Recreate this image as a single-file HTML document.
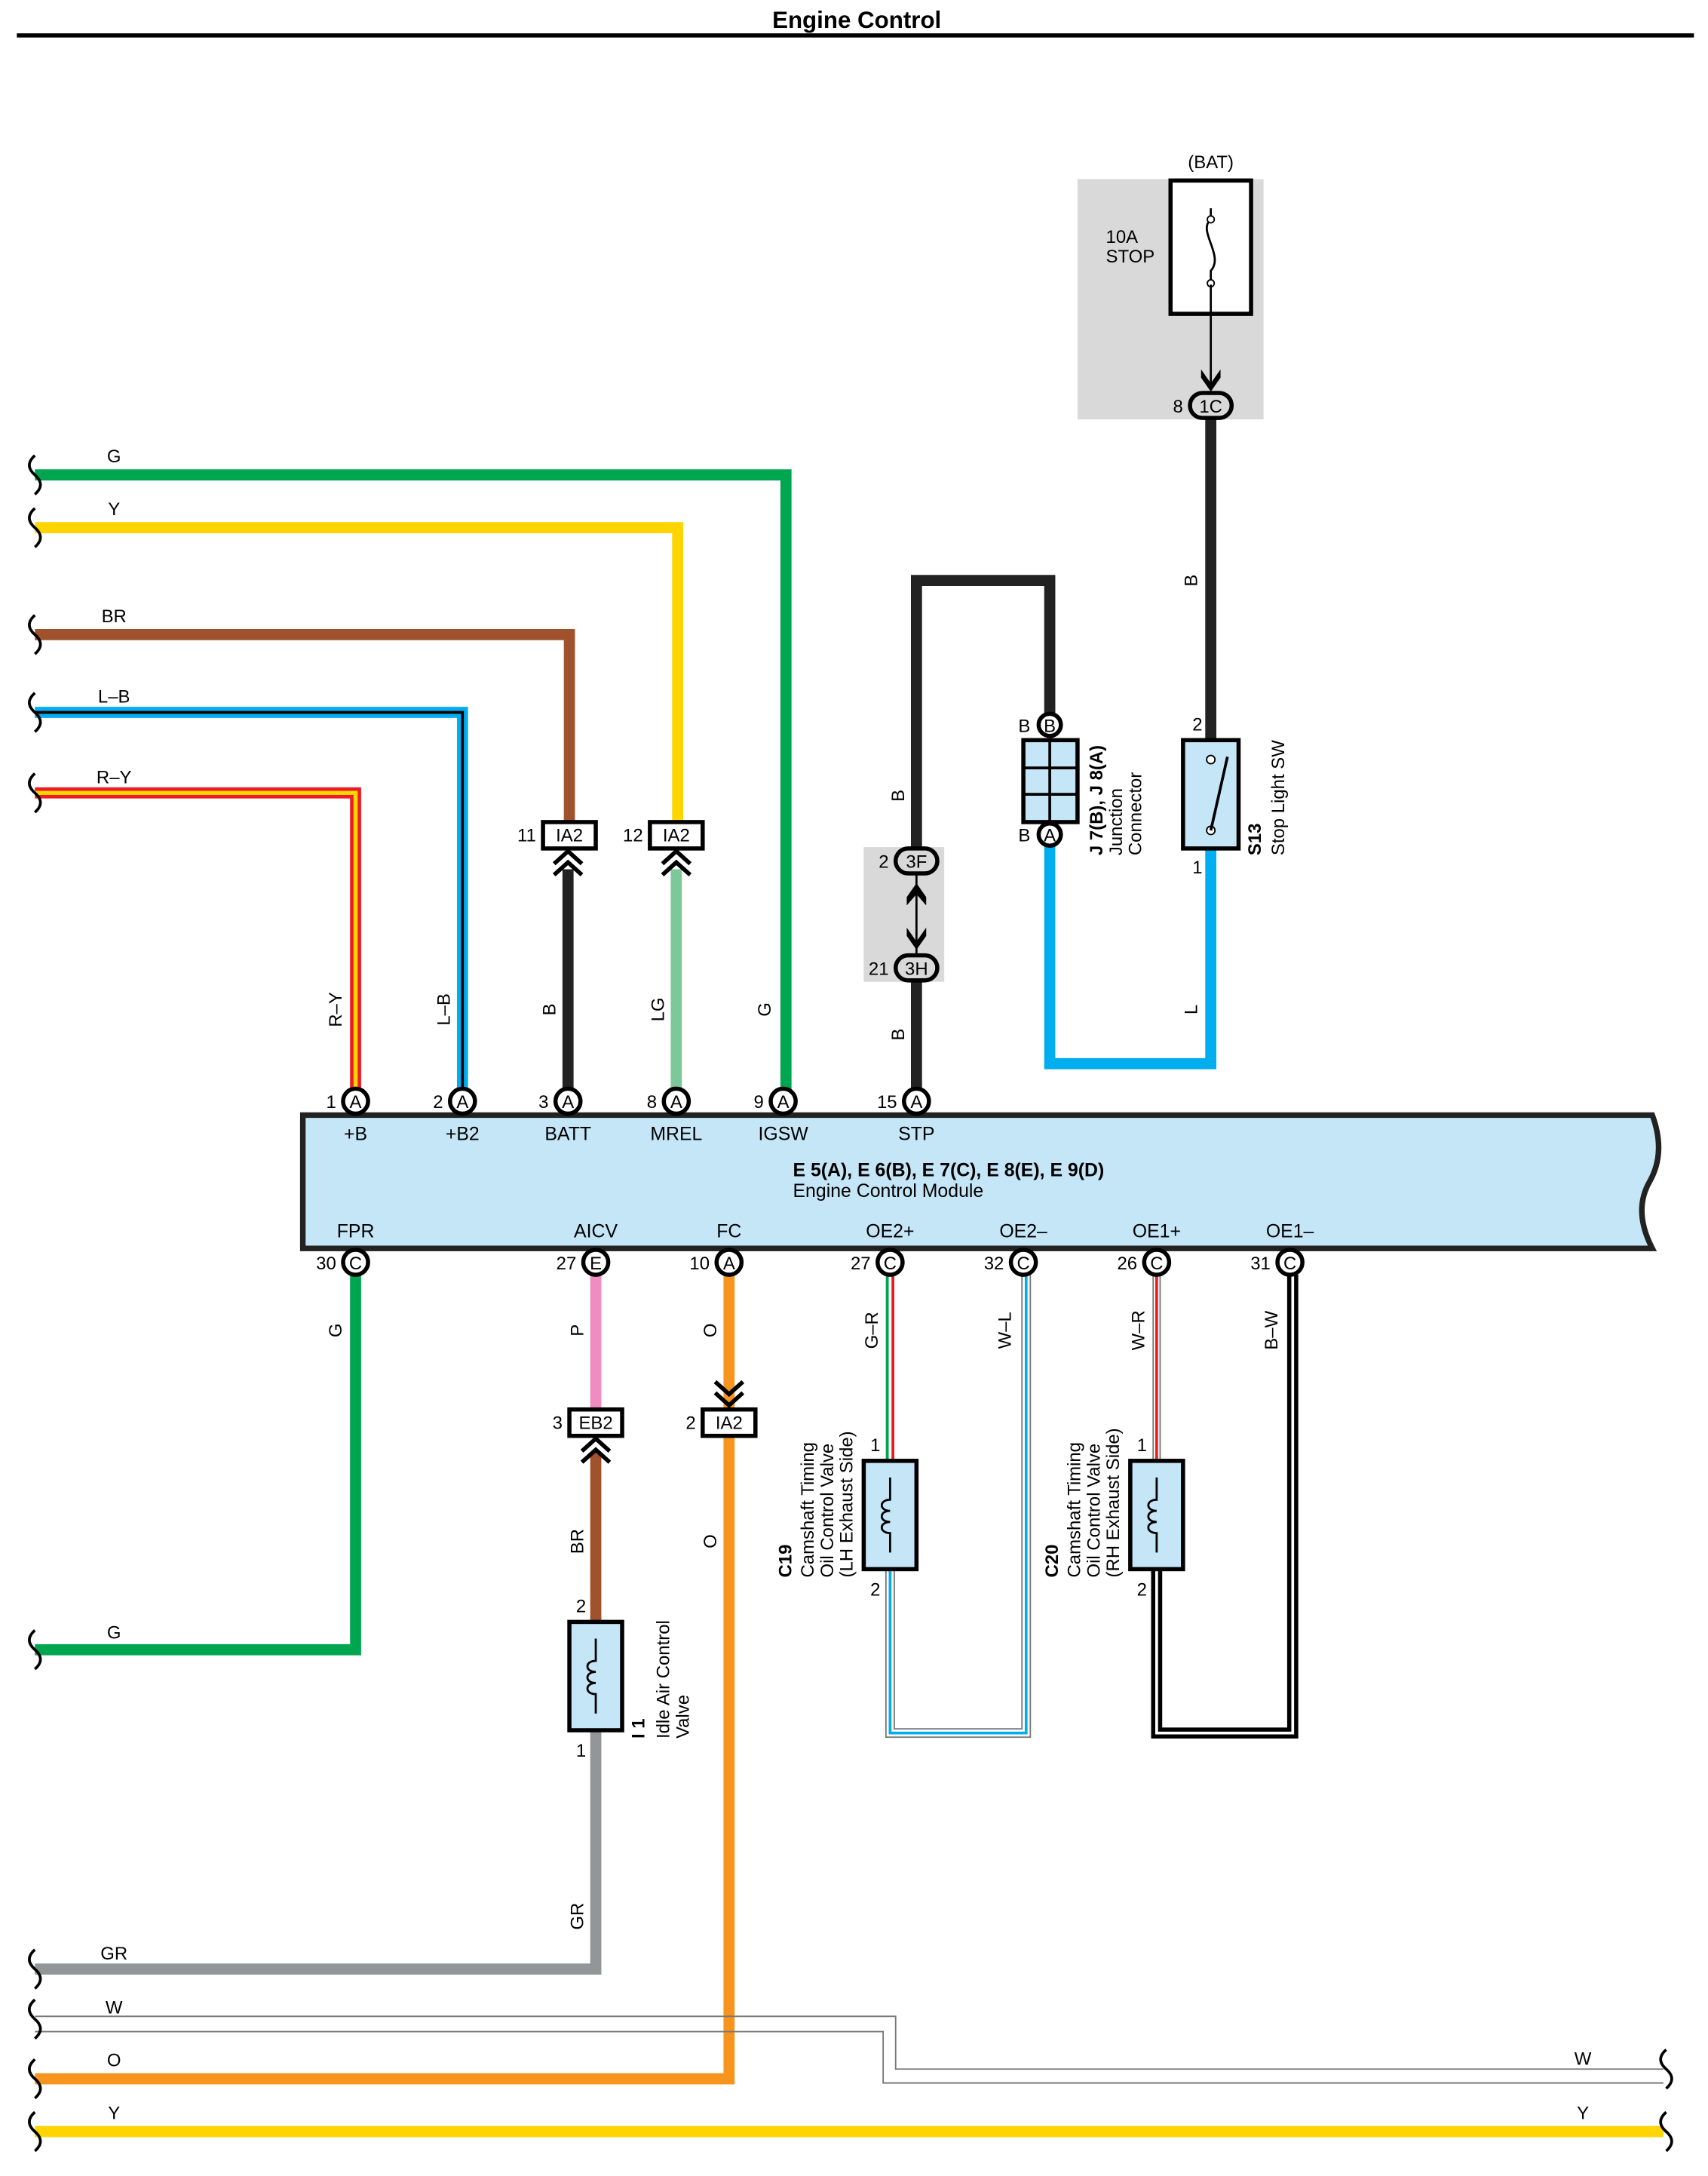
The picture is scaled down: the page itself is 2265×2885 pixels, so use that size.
<!DOCTYPE html>
<html><head><meta charset="utf-8"><style>
html,body{margin:0;padding:0;background:#fff}
svg{display:block}
text{font-family:"Liberation Sans",Arial,sans-serif;fill:#000}
</style></head><body>
<svg width="2265" height="2885" viewBox="0 0 1230 1567" xmlns="http://www.w3.org/2000/svg">
<defs>
<g id="brk"><path d="M0,-10 q-6,5 0,10 q6,5 0,10" fill="none" stroke="#000" stroke-width="2" transform="translate(0,-5)"/></g>
</defs>
<!-- title -->
<text x="617" y="20" font-size="17" font-weight="bold" text-anchor="middle">Engine Control</text>
<rect x="12" y="24" width="1208" height="3" fill="#000"/>

<!-- gray boxes -->
<rect x="776" y="129" width="134" height="173" fill="#d9d9d9"/>
<rect x="622" y="610" width="58" height="97" fill="#d9d9d9"/>

<!-- fuse -->
<text x="872" y="121" font-size="13" text-anchor="middle">(BAT)</text>
<rect x="843" y="130" width="58" height="96" fill="#fff" stroke="#000" stroke-width="3"/>
<path d="M872,150 L872,158 C862,166 882,184 872,195 L872,205" fill="none" stroke="#000" stroke-width="1.5"/>
<circle cx="872" cy="158" r="2.5" fill="#fff" stroke="#000"/><circle cx="872" cy="204" r="2.5" fill="#fff" stroke="#000"/>
<line x1="872" y1="205" x2="872" y2="280" stroke="#000" stroke-width="1.5"/>
<path d="M865,266 L872,276 L879,266 L879,272 L872,282 L865,272Z" fill="#000"/>
<text x="808" y="175" font-size="13" text-anchor="middle">10A</text>
<text x="814" y="189" font-size="13" text-anchor="middle">STOP</text>

<!-- wires thick -->
<g fill="none" stroke-linejoin="miter" stroke-linecap="butt">
<path d="M872,300 V535" stroke="#222" stroke-width="8"/>
<path d="M872,611 V766 H756 V606" stroke="#00aeef" stroke-width="8"/>
<path d="M756,516 V418 H660 V612" stroke="#222" stroke-width="8"/>
<path d="M660,705 V787" stroke="#222" stroke-width="8"/>
<path d="M660,628 V688" stroke="#000" stroke-width="1.5"/>
<path d="M25,342 H566 V787" stroke="#00a550" stroke-width="8"/>
<path d="M25,380 H488 V591" stroke="#ffd500" stroke-width="8"/>
<path d="M25,457 H410 V591" stroke="#a0522d" stroke-width="8"/>
<path d="M25,513 H333 V787" stroke="#00aeef" stroke-width="8"/>
<path d="M25,513 H333 V787" stroke="#000" stroke-width="2"/>
<path d="M25,571 H256 V787" stroke="#ed1c24" stroke-width="8"/>
<path d="M25,571 H256 V787" stroke="#ffd500" stroke-width="3"/>
<path d="M409,626 V787" stroke="#222" stroke-width="8"/>
<path d="M487,626 V787" stroke="#7dc89a" stroke-width="8"/>
<!-- bottom -->
<path d="M256,918 V1188 H25" stroke="#00a550" stroke-width="8"/>
<path d="M429,918 V1015" stroke="#f08cbf" stroke-width="8"/>
<path d="M429,1046 V1168" stroke="#a0522d" stroke-width="8"/>
<path d="M429,1246 V1418 H25" stroke="#939598" stroke-width="8"/>
<path d="M525,918 V1497 H25" stroke="#f7941d" stroke-width="8"/>
<path d="M641,918 V1052" stroke="#000" stroke-width="6"/>
<path d="M641,918 V1052" stroke="#fff" stroke-width="4"/>
<path d="M639,918 V1052" stroke="#00a550" stroke-width="2"/>
<path d="M643,918 V1052" stroke="#ed1c24" stroke-width="2"/>
<path d="M641,1130 V1248 H739 V918" stroke="#777" stroke-width="7"/>
<path d="M641,1130 V1248 H739 V918" stroke="#fff" stroke-width="5"/>
<path d="M641,1130 V1248 H739 V918" stroke="#00aeef" stroke-width="2"/>
<path d="M833,918 V1052" stroke="#777" stroke-width="6"/>
<path d="M833,918 V1052" stroke="#fff" stroke-width="4"/>
<path d="M833,918 V1052" stroke="#ed1c24" stroke-width="2"/>
<path d="M833,1130 V1248 H931 V918" stroke="#000" stroke-width="8"/>
<path d="M833,1130 V1248 H931 V918" stroke="#fff" stroke-width="2"/>
<path d="M25,1452 H645 V1490 H1198" stroke="#777" stroke-width="1"/>
<path d="M25,1463 H636 V1500 H1198" stroke="#777" stroke-width="1"/>
<path d="M25,1535 H1198" stroke="#ffd500" stroke-width="8"/>
</g>

<!-- break marks -->
<g fill="none" stroke="#000" stroke-width="2">
<path d="M25,328 q-8,7 0,14 q8,7 0,14"/>
<path d="M25,366 q-8,7 0,14 q8,7 0,14"/>
<path d="M25,443 q-8,7 0,14 q8,7 0,14"/>
<path d="M25,499 q-8,7 0,14 q8,7 0,14"/>
<path d="M25,557 q-8,7 0,14 q8,7 0,14"/>
<path d="M25,1174 q-8,7 0,14 q8,7 0,14"/>
<path d="M25,1404 q-8,7 0,14 q8,7 0,14"/>
<path d="M25,1440 q-8,7 0,14 q8,7 0,14"/>
<path d="M25,1483 q-8,7 0,14 q8,7 0,14"/>
<path d="M25,1521 q-8,7 0,14 q8,7 0,14"/>
<path d="M1200,1476 q-8,7 0,14 q8,7 0,14"/>
<path d="M1200,1521 q-8,7 0,14 q8,7 0,14"/>
</g>

<!-- wire labels -->
<g font-size="13" text-anchor="middle">
<text x="82" y="333">G</text><text x="82" y="371">Y</text><text x="82" y="448">BR</text>
<text x="82" y="506">L–B</text><text x="82" y="564">R–Y</text><text x="82" y="1180">G</text>
<text x="82" y="1411">GR</text><text x="82" y="1450">W</text><text x="82" y="1488">O</text>
<text x="82" y="1526">Y</text><text x="1140" y="1487">W</text><text x="1140" y="1526">Y</text>
</g>
<g font-size="13" text-anchor="middle">
<text transform="translate(246,727) rotate(-90)">R–Y</text>
<text transform="translate(324,727) rotate(-90)">L–B</text>
<text transform="translate(400,727) rotate(-90)">B</text>
<text transform="translate(478,727) rotate(-90)">LG</text>
<text transform="translate(555,727) rotate(-90)">G</text>
<text transform="translate(651,745) rotate(-90)">B</text>
<text transform="translate(651,573) rotate(-90)">B</text>
<text transform="translate(862,418) rotate(-90)">B</text>
<text transform="translate(862,727) rotate(-90)">L</text>
<text transform="translate(246,958) rotate(-90)">G</text>
<text transform="translate(420,958) rotate(-90)">P</text>
<text transform="translate(516,958) rotate(-90)">O</text>
<text transform="translate(632,958) rotate(-90)">G–R</text>
<text transform="translate(728,958) rotate(-90)">W–L</text>
<text transform="translate(824,958) rotate(-90)">W–R</text>
<text transform="translate(920,958) rotate(-90)">B–W</text>
<text transform="translate(420,1110) rotate(-90)">BR</text>
<text transform="translate(516,1110) rotate(-90)">O</text>
<text transform="translate(420,1380) rotate(-90)">GR</text>
</g>

<!-- ECM -->
<path d="M218,803 H1190 Q1200,830 1188,851 Q1176,872 1190,899 H218Z" fill="#c5e6f7" stroke="#222" stroke-width="4"/>
<text x="571" y="847" font-size="13.5" font-weight="bold">E 5(A), E 6(B), E 7(C), E 8(E), E 9(D)</text>
<text x="571" y="862" font-size="13.5">Engine Control Module</text>
<g font-size="13.5" text-anchor="middle">
<text x="256" y="821">+B</text><text x="333" y="821">+B2</text><text x="409" y="821">BATT</text>
<text x="487" y="821">MREL</text><text x="564" y="821">IGSW</text><text x="660" y="821">STP</text>
<text x="256" y="891">FPR</text><text x="429" y="891">AICV</text><text x="525" y="891">FC</text>
<text x="641" y="891">OE2+</text><text x="737" y="891">OE2–</text><text x="833" y="891">OE1+</text><text x="929" y="891">OE1–</text>
</g>

<!-- pins -->
<g font-size="13">
<g transform="translate(256,793)"><circle r="9" fill="#fff" stroke="#000" stroke-width="3"/><text y="5" text-anchor="middle">A</text><text x="-14" y="5" text-anchor="end">1</text></g>
<g transform="translate(333,793)"><circle r="9" fill="#fff" stroke="#000" stroke-width="3"/><text y="5" text-anchor="middle">A</text><text x="-14" y="5" text-anchor="end">2</text></g>
<g transform="translate(409,793)"><circle r="9" fill="#fff" stroke="#000" stroke-width="3"/><text y="5" text-anchor="middle">A</text><text x="-14" y="5" text-anchor="end">3</text></g>
<g transform="translate(487,793)"><circle r="9" fill="#fff" stroke="#000" stroke-width="3"/><text y="5" text-anchor="middle">A</text><text x="-14" y="5" text-anchor="end">8</text></g>
<g transform="translate(564,793)"><circle r="9" fill="#fff" stroke="#000" stroke-width="3"/><text y="5" text-anchor="middle">A</text><text x="-14" y="5" text-anchor="end">9</text></g>
<g transform="translate(660,793)"><circle r="9" fill="#fff" stroke="#000" stroke-width="3"/><text y="5" text-anchor="middle">A</text><text x="-14" y="5" text-anchor="end">15</text></g>
<g transform="translate(256,909)"><circle r="9" fill="#fff" stroke="#000" stroke-width="3"/><text y="5" text-anchor="middle">C</text><text x="-14" y="5" text-anchor="end">30</text></g>
<g transform="translate(429,909)"><circle r="9" fill="#fff" stroke="#000" stroke-width="3"/><text y="5" text-anchor="middle">E</text><text x="-14" y="5" text-anchor="end">27</text></g>
<g transform="translate(525,909)"><circle r="9" fill="#fff" stroke="#000" stroke-width="3"/><text y="5" text-anchor="middle">A</text><text x="-14" y="5" text-anchor="end">10</text></g>
<g transform="translate(641,909)"><circle r="9" fill="#fff" stroke="#000" stroke-width="3"/><text y="5" text-anchor="middle">C</text><text x="-14" y="5" text-anchor="end">27</text></g>
<g transform="translate(737,909)"><circle r="9" fill="#fff" stroke="#000" stroke-width="3"/><text y="5" text-anchor="middle">C</text><text x="-14" y="5" text-anchor="end">32</text></g>
<g transform="translate(833,909)"><circle r="9" fill="#fff" stroke="#000" stroke-width="3"/><text y="5" text-anchor="middle">C</text><text x="-14" y="5" text-anchor="end">26</text></g>
<g transform="translate(929,909)"><circle r="9" fill="#fff" stroke="#000" stroke-width="3"/><text y="5" text-anchor="middle">C</text><text x="-14" y="5" text-anchor="end">31</text></g>
<g transform="translate(756,522)"><circle r="8" fill="#fff" stroke="#000" stroke-width="3"/><text y="5" text-anchor="middle">B</text><text x="-14" y="5" text-anchor="end">B</text></g>
<g transform="translate(756,601)"><circle r="8" fill="#fff" stroke="#000" stroke-width="3"/><text y="5" text-anchor="middle">A</text><text x="-14" y="5" text-anchor="end">B</text></g>
<!-- ovals -->
<g transform="translate(872,292)"><rect x="-15" y="-9" width="30" height="18" rx="9" fill="#d9d9d9" stroke="#000" stroke-width="3"/><text y="5" text-anchor="middle">1C</text><text x="-20" y="5" text-anchor="end">8</text></g>
<g transform="translate(660,620)"><rect x="-15" y="-9" width="30" height="18" rx="9" fill="#d9d9d9" stroke="#000" stroke-width="3"/><text y="5" text-anchor="middle">3F</text><text x="-20" y="5" text-anchor="end">2</text></g>
<g transform="translate(660,697)"><rect x="-15" y="-9" width="30" height="18" rx="9" fill="#d9d9d9" stroke="#000" stroke-width="3"/><text y="5" text-anchor="middle">3H</text><text x="-20" y="5" text-anchor="end">21</text></g>
<path d="M653,646 L660,636 L667,646 L667,652 L660,644 L653,652Z" fill="#000"/>
<path d="M653,668 L660,678 L667,668 L667,674 L660,684 L653,674Z" fill="#000"/>
<!-- IA2 / EB2 boxes -->
<g transform="translate(410,601)"><rect x="-19" y="-9" width="38" height="19" fill="#fff" stroke="#000" stroke-width="3"/><text y="5" text-anchor="middle">IA2</text><text x="-24" y="5" text-anchor="end">11</text></g>
<g transform="translate(487,601)"><rect x="-19" y="-9" width="38" height="19" fill="#fff" stroke="#000" stroke-width="3"/><text y="5" text-anchor="middle">IA2</text><text x="-24" y="5" text-anchor="end">12</text></g>
<g transform="translate(429,1024)"><rect x="-19" y="-9" width="38" height="19" fill="#fff" stroke="#000" stroke-width="3"/><text y="5" text-anchor="middle">EB2</text><text x="-24" y="5" text-anchor="end">3</text></g>
<g transform="translate(525,1024)"><rect x="-19" y="-9" width="38" height="19" fill="#fff" stroke="#000" stroke-width="3"/><text y="5" text-anchor="middle">IA2</text><text x="-24" y="5" text-anchor="end">2</text></g>
</g>
<!-- chevrons -->
<g fill="none" stroke="#000" stroke-width="3">
<path d="M399,622 L409,613 L419,622 M399,630 L409,621 L419,630"/>
<path d="M477,622 L487,613 L497,622 M477,630 L487,621 L497,630"/>
<path d="M419,1045 L429,1036 L439,1045 M419,1053 L429,1044 L439,1053"/>
<path d="M515,995 L525,1004 L535,995 M515,1003 L525,1012 L535,1003"/>
</g>

<!-- junction connector -->
<rect x="737" y="533" width="39" height="59" fill="#c5e6f7" stroke="#000" stroke-width="3"/>
<path d="M756,533 V592 M737,553 H776 M737,572 H776" stroke="#000" stroke-width="2"/>
<g font-size="13"><text transform="translate(794,616) rotate(-90)" font-weight="bold">J 7(B), J 8(A)</text>
<text transform="translate(808,616) rotate(-90)">Junction</text>
<text transform="translate(822,616) rotate(-90)">Connector</text></g>

<!-- stop light sw -->
<rect x="852" y="533" width="40" height="78" fill="#c5e6f7" stroke="#000" stroke-width="3"/>
<circle cx="872" cy="547" r="3" fill="#fff" stroke="#000"/><circle cx="872" cy="598" r="3" fill="#fff" stroke="#000"/>
<line x1="872" y1="598" x2="884" y2="545" stroke="#000" stroke-width="2"/>
<text x="866" y="526" font-size="13" text-anchor="end">2</text>
<text x="866" y="629" font-size="13" text-anchor="end">1</text>
<g font-size="13"><text transform="translate(908,616) rotate(-90)" font-weight="bold">S13</text>
<text transform="translate(925,616) rotate(-90)">Stop Light SW</text></g>

<!-- solenoid boxes -->
<g>
<rect x="410" y="1168" width="38" height="78" fill="#c5e6f7" stroke="#000" stroke-width="3"/>
<rect x="622" y="1052" width="38" height="78" fill="#c5e6f7" stroke="#000" stroke-width="3"/>
<rect x="814" y="1052" width="38" height="78" fill="#c5e6f7" stroke="#000" stroke-width="3"/>
<path d="M429,1180 V1196 c-8,0 -8,8 0,8 c-8,0 -8,8 0,8 c-8,0 -8,8 0,8 V1234" fill="none" stroke="#000" stroke-width="1.5"/>
<path d="M641,1064 V1080 c-8,0 -8,8 0,8 c-8,0 -8,8 0,8 c-8,0 -8,8 0,8 V1118" fill="none" stroke="#000" stroke-width="1.5"/>
<path d="M833,1064 V1080 c-8,0 -8,8 0,8 c-8,0 -8,8 0,8 c-8,0 -8,8 0,8 V1118" fill="none" stroke="#000" stroke-width="1.5"/>
</g>
<g font-size="13">
<text x="422" y="1161" text-anchor="end">2</text><text x="422" y="1265" text-anchor="end">1</text>
<text x="634" y="1045" text-anchor="end">1</text><text x="634" y="1149" text-anchor="end">2</text>
<text x="826" y="1045" text-anchor="end">1</text><text x="826" y="1149" text-anchor="end">2</text>
<text transform="translate(464,1252) rotate(-90)" font-weight="bold">I 1</text>
<text transform="translate(482,1252) rotate(-90)">Idle Air Control</text>
<text transform="translate(496,1252) rotate(-90)">Valve</text>
<text transform="translate(570,1136) rotate(-90)" font-weight="bold">C19</text>
<text transform="translate(586,1136) rotate(-90)">Camshaft Timing</text>
<text transform="translate(600,1136) rotate(-90)">Oil Control Valve</text>
<text transform="translate(614,1136) rotate(-90)">(LH Exhaust Side)</text>
<text transform="translate(762,1136) rotate(-90)" font-weight="bold">C20</text>
<text transform="translate(778,1136) rotate(-90)">Camshaft Timing</text>
<text transform="translate(792,1136) rotate(-90)">Oil Control Valve</text>
<text transform="translate(806,1136) rotate(-90)">(RH Exhaust Side)</text>
</g>
</svg>
</body></html>
